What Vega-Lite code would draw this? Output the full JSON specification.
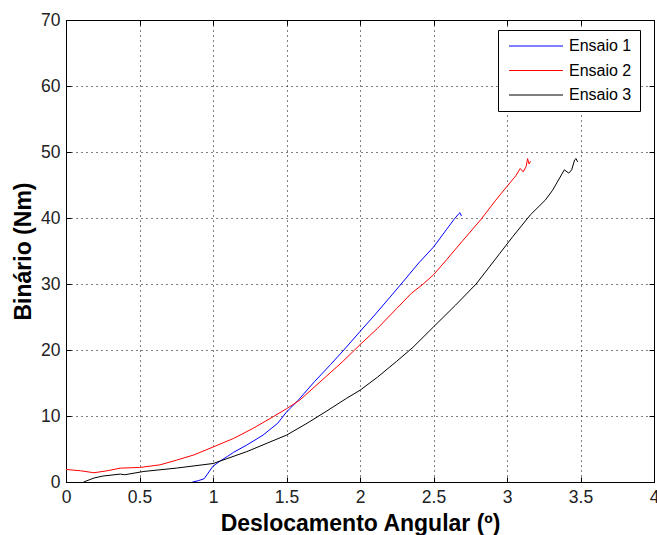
{
  "$schema": "https://vega.github.io/schema/vega-lite/v6.json",
  "width": 588,
  "height": 462,
  "autosize": {"type": "none"},
  "padding": {"left": 66, "top": 20, "right": 3, "bottom": 53},
  "background": "white",
  "config": {
    "font": "Liberation Sans",
    "view": {"stroke": "black", "strokeWidth": 1},
    "axis": {
      "domainColor": "black",
      "tickColor": "black",
      "labelColor": "#222222",
      "labelFont": "Liberation Sans",
      "labelFontSize": 17.5,
      "titleFont": "Liberation Sans",
      "titleFontSize": 23,
      "titleFontWeight": "bold",
      "titleColor": "black"
    }
  },
  "data": {
    "values": [
      {"serie": "Ensaio 1", "x": 0.86, "y": 0},
      {"serie": "Ensaio 1", "x": 0.9, "y": 0.2},
      {"serie": "Ensaio 1", "x": 0.94, "y": 0.5},
      {"serie": "Ensaio 1", "x": 1.0, "y": 2.4},
      {"serie": "Ensaio 1", "x": 1.05, "y": 3.2},
      {"serie": "Ensaio 1", "x": 1.1, "y": 3.9},
      {"serie": "Ensaio 1", "x": 1.14, "y": 4.5},
      {"serie": "Ensaio 1", "x": 1.23, "y": 5.6},
      {"serie": "Ensaio 1", "x": 1.34, "y": 7.1},
      {"serie": "Ensaio 1", "x": 1.44, "y": 8.9},
      {"serie": "Ensaio 1", "x": 1.5, "y": 10.6},
      {"serie": "Ensaio 1", "x": 1.58, "y": 12.4},
      {"serie": "Ensaio 1", "x": 1.69, "y": 15.2},
      {"serie": "Ensaio 1", "x": 1.8, "y": 17.8},
      {"serie": "Ensaio 1", "x": 1.89, "y": 20.0},
      {"serie": "Ensaio 1", "x": 2.0, "y": 22.8},
      {"serie": "Ensaio 1", "x": 2.1, "y": 25.3},
      {"serie": "Ensaio 1", "x": 2.2, "y": 27.9},
      {"serie": "Ensaio 1", "x": 2.28, "y": 30.0},
      {"serie": "Ensaio 1", "x": 2.4, "y": 33.2},
      {"serie": "Ensaio 1", "x": 2.5, "y": 35.6},
      {"serie": "Ensaio 1", "x": 2.59, "y": 38.3},
      {"serie": "Ensaio 1", "x": 2.64, "y": 39.8},
      {"serie": "Ensaio 1", "x": 2.67, "y": 40.6},
      {"serie": "Ensaio 1", "x": 2.68, "y": 40.8},
      {"serie": "Ensaio 1", "x": 2.69, "y": 40.3},
      {"serie": "Ensaio 2", "x": 0.0, "y": 1.9},
      {"serie": "Ensaio 2", "x": 0.1, "y": 1.7},
      {"serie": "Ensaio 2", "x": 0.19, "y": 1.4},
      {"serie": "Ensaio 2", "x": 0.28, "y": 1.7},
      {"serie": "Ensaio 2", "x": 0.37, "y": 2.1},
      {"serie": "Ensaio 2", "x": 0.5, "y": 2.2},
      {"serie": "Ensaio 2", "x": 0.64, "y": 2.6},
      {"serie": "Ensaio 2", "x": 0.75, "y": 3.3},
      {"serie": "Ensaio 2", "x": 0.87, "y": 4.1},
      {"serie": "Ensaio 2", "x": 1.0, "y": 5.3},
      {"serie": "Ensaio 2", "x": 1.14, "y": 6.6},
      {"serie": "Ensaio 2", "x": 1.27, "y": 8.1},
      {"serie": "Ensaio 2", "x": 1.41, "y": 9.9},
      {"serie": "Ensaio 2", "x": 1.5, "y": 11.1},
      {"serie": "Ensaio 2", "x": 1.59, "y": 12.4},
      {"serie": "Ensaio 2", "x": 1.68, "y": 14.2},
      {"serie": "Ensaio 2", "x": 1.76, "y": 15.8},
      {"serie": "Ensaio 2", "x": 1.88, "y": 18.2},
      {"serie": "Ensaio 2", "x": 2.0, "y": 20.8},
      {"serie": "Ensaio 2", "x": 2.12, "y": 23.3},
      {"serie": "Ensaio 2", "x": 2.25, "y": 26.3},
      {"serie": "Ensaio 2", "x": 2.35, "y": 28.6},
      {"serie": "Ensaio 2", "x": 2.43, "y": 30.0},
      {"serie": "Ensaio 2", "x": 2.5, "y": 31.4},
      {"serie": "Ensaio 2", "x": 2.59, "y": 33.7},
      {"serie": "Ensaio 2", "x": 2.7, "y": 36.6},
      {"serie": "Ensaio 2", "x": 2.82, "y": 39.7},
      {"serie": "Ensaio 2", "x": 2.92, "y": 42.6},
      {"serie": "Ensaio 2", "x": 3.0, "y": 44.8},
      {"serie": "Ensaio 2", "x": 3.06, "y": 46.4},
      {"serie": "Ensaio 2", "x": 3.09, "y": 47.5},
      {"serie": "Ensaio 2", "x": 3.11, "y": 47.0},
      {"serie": "Ensaio 2", "x": 3.13, "y": 47.8},
      {"serie": "Ensaio 2", "x": 3.14, "y": 49.0},
      {"serie": "Ensaio 2", "x": 3.15, "y": 48.2},
      {"serie": "Ensaio 2", "x": 3.16, "y": 48.6},
      {"serie": "Ensaio 3", "x": 0.12, "y": 0},
      {"serie": "Ensaio 3", "x": 0.19, "y": 0.6},
      {"serie": "Ensaio 3", "x": 0.25, "y": 0.9},
      {"serie": "Ensaio 3", "x": 0.37, "y": 1.2},
      {"serie": "Ensaio 3", "x": 0.4, "y": 1.1},
      {"serie": "Ensaio 3", "x": 0.53, "y": 1.6},
      {"serie": "Ensaio 3", "x": 0.75, "y": 2.1},
      {"serie": "Ensaio 3", "x": 1.0, "y": 2.8},
      {"serie": "Ensaio 3", "x": 1.09, "y": 3.5},
      {"serie": "Ensaio 3", "x": 1.23, "y": 4.6},
      {"serie": "Ensaio 3", "x": 1.37, "y": 5.9},
      {"serie": "Ensaio 3", "x": 1.5, "y": 7.1},
      {"serie": "Ensaio 3", "x": 1.64, "y": 8.9},
      {"serie": "Ensaio 3", "x": 1.77, "y": 10.7},
      {"serie": "Ensaio 3", "x": 1.91, "y": 12.7},
      {"serie": "Ensaio 3", "x": 2.0, "y": 13.9},
      {"serie": "Ensaio 3", "x": 2.12, "y": 15.9},
      {"serie": "Ensaio 3", "x": 2.25, "y": 18.3},
      {"serie": "Ensaio 3", "x": 2.36, "y": 20.4},
      {"serie": "Ensaio 3", "x": 2.5, "y": 23.5},
      {"serie": "Ensaio 3", "x": 2.65, "y": 26.8},
      {"serie": "Ensaio 3", "x": 2.79, "y": 30.0},
      {"serie": "Ensaio 3", "x": 2.95, "y": 34.6},
      {"serie": "Ensaio 3", "x": 3.04, "y": 37.2},
      {"serie": "Ensaio 3", "x": 3.16, "y": 40.5},
      {"serie": "Ensaio 3", "x": 3.26, "y": 42.7},
      {"serie": "Ensaio 3", "x": 3.31, "y": 44.2},
      {"serie": "Ensaio 3", "x": 3.39, "y": 47.3},
      {"serie": "Ensaio 3", "x": 3.42, "y": 46.8},
      {"serie": "Ensaio 3", "x": 3.44, "y": 47.3},
      {"serie": "Ensaio 3", "x": 3.46, "y": 48.8},
      {"serie": "Ensaio 3", "x": 3.47, "y": 49.0},
      {"serie": "Ensaio 3", "x": 3.48, "y": 48.5}
    ]
  },
  "layer": [
    {
      "mark": {"type": "line", "strokeWidth": 1, "clip": true},
      "encoding": {
        "x": {
          "field": "x", "type": "quantitative",
          "scale": {"domain": [0, 4], "nice": false, "zero": false},
          "axis": {
            "title": "Deslocamento Angular (º)",
            "values": [0, 0.5, 1, 1.5, 2, 2.5, 3, 3.5, 4],
            "format": "~g",
            "grid": true, "gridColor": "black", "gridDash": [1, 4], "gridOpacity": 1,
            "tickSize": -5, "labelPadding": 11, "titlePadding": 7,
            "labelFlush": false
          }
        },
        "y": {
          "field": "y", "type": "quantitative",
          "scale": {"domain": [0, 70], "nice": false},
          "axis": {
            "title": "Binário (Nm)",
            "values": [0, 10, 20, 30, 40, 50, 60, 70],
            "grid": true, "gridColor": "black", "gridDash": [1, 4], "gridOpacity": 1,
            "tickSize": -5, "labelPadding": 11, "titlePadding": 5
          }
        },
        "color": {
          "field": "serie", "type": "nominal",
          "scale": {"domain": ["Ensaio 1", "Ensaio 2", "Ensaio 3"], "range": ["#0000ff", "#ff0000", "#000000"]},
          "legend": {
            "title": null,
            "orient": "none",
            "legendX": 432,
            "legendY": 10,
            "symbolType": "M-5.4,0H5.4",
            "symbolSize": 100,
            "symbolStrokeWidth": 1,
            "symbolOffset": 22,
            "labelFontSize": 16,
            "labelOffset": 25,
            "labelColor": "black",
            "labelFont": "Liberation Sans",
            "strokeColor": "black",
            "fillColor": "white",
            "padding": 8,
            "rowPadding": 8.5
          }
        }
      }
    },
    {
      "mark": {"type": "point", "opacity": 0},
      "encoding": {
        "x": {
          "field": "x", "type": "quantitative",
          "scale": {"domain": [0, 4], "nice": false, "zero": false},
          "axis": {"orient": "top", "title": null, "labels": false, "grid": false, "domain": false, "tickSize": -5,
                   "values": [0, 0.5, 1, 1.5, 2, 2.5, 3, 3.5, 4]}
        },
        "y": {
          "field": "y", "type": "quantitative",
          "scale": {"domain": [0, 70], "nice": false},
          "axis": {"orient": "right", "title": null, "labels": false, "grid": false, "domain": false, "tickSize": -5,
                   "values": [0, 10, 20, 30, 40, 50, 60, 70]}
        }
      }
    }
  ],
  "resolve": {"axis": {"x": "independent", "y": "independent"}}
}
